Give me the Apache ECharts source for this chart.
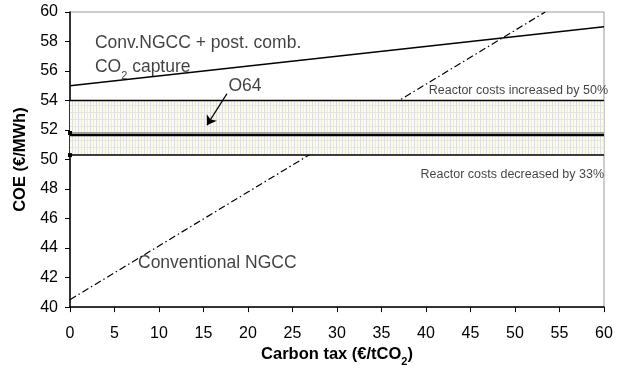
<!DOCTYPE html>
<html>
<head>
<meta charset="utf-8">
<script src="https://cdn.jsdelivr.net/npm/echarts@6/dist/echarts.min.js"></script>
<style>
  html, body { margin: 0; padding: 0; background: #fff; }
  #chart { width: 623px; height: 372px; }
</style>
</head>
<body>
<div id="chart"></div>
<script>
// carbon tax (€/tCO2) vs cost of electricity
const taxTicks = [0, 5, 10, 15, 20, 25, 30, 35, 40, 45, 50, 55, 60]
const coeTicks = [40, 42, 44, 46, 48, 50, 52, 54, 56, 58, 60]

const captureLine = [[0, 55], [60, 59]]        // Conv.NGCC + post. comb. CO2 capture
const ngccLine = [[0, 40.5], [53.4, 60]]       // Conventional NGCC
const o64Line = [[0, 51.65], [60, 51.65]]
const o64Upper = [[0, 51.8], [60, 51.8]]
const bandHigh = [[0, 54], [60, 54]]           // reactor costs +50%
const bandLow = [[0, 50.3], [60, 50.3]]        // reactor costs -33%

const noteText = [
  'Conv.NGCC + post. comb.',
  'CO{sub|2} capture',
  'O64',
  'Reactor costs increased by 50%',
  'Reactor costs decreased by 33%',
  'Conventional NGCC',
]
const noteX = [2.8, 2.8, 19.66, 60.45, 60, 7.64]
const noteY = [57.89, 56.24, 54.97, 54.67, 49.0, 43.0]
const noteAlign = ['left', 'left', 'center', 'right', 'right', 'left']
const noteSize = [17.5, 17.5, 17.5, 12.5, 12.5, 17.5]

const arrowFrom = [17.64, 54.47]
const arrowTo = [15.39, 52.33]

function hatch() {
  const c = document.createElement('canvas')
  c.width = 6
  c.height = 7
  const g = c.getContext('2d')
  g.fillStyle = '#fbfbf1'
  g.fillRect(0, 0, 6, 7)
  g.fillStyle = '#d9d9ef'
  g.fillRect(0, 0, 1, 7)
  g.fillStyle = '#efebc4'
  g.fillRect(3, 0, 1, 7)
  g.fillStyle = '#e4e4ec'
  g.fillRect(0, 0, 6, 1)
  return c
}

const chart = echarts.init(document.getElementById('chart'))
const font = 'Arial, "Liberation Sans", sans-serif'
const black = '#000'

// flat line with a small square only on its first point
const flat = (data, width, color, mark) => ({
  type: 'line',
  data: data.map((p, i) => ({
    value: p,
    symbol: mark && i === 0 ? 'rect' : 'none',
    symbolSize: 4,
  })),
  showSymbol: true,
  silent: true,
  itemStyle: { color: black },
  lineStyle: { color: color || black, width },
  z: 5,
})

chart.setOption({
  animation: false,
  textStyle: { fontFamily: font, color: black },
  grid: {
    left: 70, right: 19, top: 12, bottom: 60,
    show: true, borderColor: '#9a9a9a', borderWidth: 1,
  },
  xAxis: {
    type: 'value', min: 0, max: 60, interval: 5,
    name: 'Carbon tax (€/tCO{sub|2})',
    nameLocation: 'middle', nameGap: 38,
    nameTextStyle: {
      fontSize: 16.5, fontWeight: 'bold', fontFamily: font, color: black,
      rich: { sub: { fontSize: 11, fontWeight: 'bold', verticalAlign: 'bottom', lineHeight: 11, padding: [0, 0, -4, 0] } },
    },
    axisLine: { lineStyle: { color: black, width: 1.5 } },
    axisTick: { inside: false, length: 5, lineStyle: { color: black } },
    axisLabel: { fontSize: 16, margin: 18, color: black, formatter: v => taxTicks.includes(v) ? v : '' },
    splitLine: { show: false },
  },
  yAxis: {
    type: 'value', min: 40, max: 60, interval: 2,
    name: 'COE (€/MWh)',
    nameLocation: 'middle', nameGap: 39,
    nameTextStyle: { fontSize: 16.5, fontWeight: 'bold', fontFamily: font, color: black },
    axisLine: { show: true, lineStyle: { color: black, width: 1.5 } },
    axisTick: { show: true, length: 5, lineStyle: { color: black } },
    axisLabel: { fontSize: 16, margin: 12, color: black, formatter: v => coeTicks.includes(v) ? v : '' },
    splitLine: { show: false },
  },
  series: [
    {
      type: 'line',
      data: ngccLine,
      showSymbol: false,
      silent: true,
      lineStyle: { color: black, width: 1.2, type: [7, 3, 1.5, 3] },
      z: 2,
    },
    {
      // hatched band between the reactor cost cases, hides the NGCC line
      type: 'line',
      data: bandLow,
      showSymbol: false,
      silent: true,
      lineStyle: { width: 0 },
      z: 4,
      markArea: {
        silent: true,
        z: 4,
        itemStyle: { color: { image: hatch(), repeat: 'repeat' }, opacity: 1 },
        data: [[{ xAxis: 0, yAxis: bandLow[0][1] }, { xAxis: 60, yAxis: bandHigh[0][1] }]],
      },
    },
    flat(bandHigh, 1.5),
    flat(bandLow, 1.5, black, true),
    flat(o64Upper, 1, '#555', true),
    flat(o64Line, 2.2),
    flat(captureLine, 1.4),
    {
      type: 'scatter',
      clip: false,
      symbolSize: 0,
      silent: true,
      z: 6,
      data: noteText.map((t, i) => ({
        value: [noteX[i], noteY[i]],
        label: {
          show: true,
          position: 'inside',
          align: noteAlign[i],
          verticalAlign: 'middle',
          formatter: t,
          fontSize: noteSize[i],
          fontFamily: font,
          color: '#111',
          rich: { sub: { fontSize: 11, verticalAlign: 'bottom', lineHeight: 11, padding: [0, 0, -5, 0] } },
        },
      })),
      markLine: {
        silent: true,
        symbol: ['none', 'arrow'],
        symbolSize: 9,
        label: { show: false },
        lineStyle: { color: black, width: 1.2, type: 'solid' },
        data: [[{ coord: arrowFrom }, { coord: arrowTo }]],
      },
    },
  ],
})

window.addEventListener('resize', () => chart.resize())
</script>
</body>
</html>
